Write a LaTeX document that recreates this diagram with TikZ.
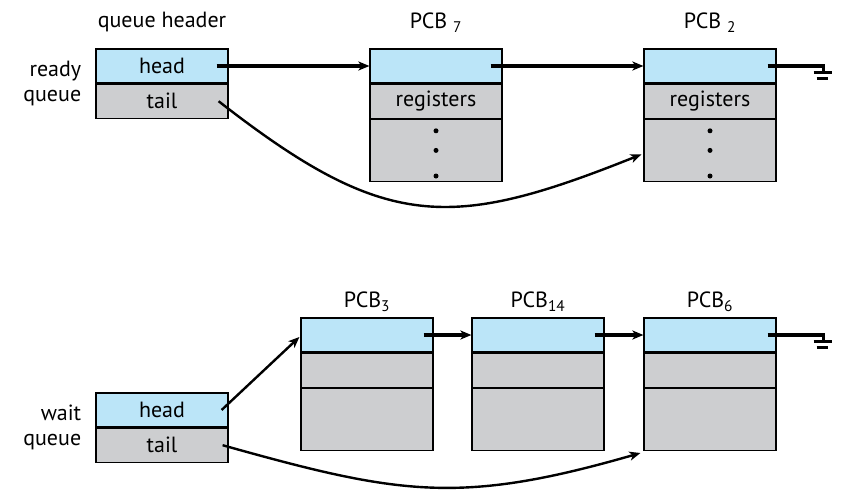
\documentclass[tikz,border=0pt]{standalone}
\usepackage{fontspec}
\setmainfont{PT Sans}
\usetikzlibrary{arrows.meta}
\usetikzlibrary{calc}
\usetikzlibrary{positioning}
\definecolor{hdblue}{RGB}{187,229,248}
\definecolor{cellgray}{RGB}{205,206,208}
\begin{document}
\begin{tikzpicture}[
		x=1pt,y=-1pt,
		>={Stealth[length=11pt,width=9pt,inset=3pt]},
		cell/.style={draw,line width=1.2pt,rectangle,inner sep=0pt,minimum height=34pt},
		hd/.style={cell,fill=hdblue,minimum width=132pt},
		tl/.style={cell,fill=cellgray,minimum width=132pt},
		rest/.style={cell,fill=cellgray,minimum width=132pt,minimum height=62pt},
		lbl/.style={inner sep=2pt,font=\fontsize{22}{25}\selectfont},
		ptr/.style={->,line width=3.6pt},
		link/.style={->,line width=2.4pt},
		dot/.style={circle,fill=black,inner sep=0pt,minimum size=5pt}
	]\fontsize{22}{25}\selectfont
		\useasboundingbox (0,0) rectangle (851,493);

		% ready queue
		\node [hd] (rhead) at (162,66) {head};
		\node [tl,below=0pt of rhead] (rtail) {tail};
		\node [lbl,above=14pt of rhead] (rhdr) {queue header};
		\node [lbl,align=right,left=12pt of rhead.south west] (rq) {ready\\queue};

		\node [hd] (pcb7) at (436,66) {};
		\node [tl,below=0pt of pcb7] (pcb7r) {registers};
		\node [rest,below=0pt of pcb7r] (pcb7b) {};
		\node [lbl,above=14pt of pcb7] (pcb7l) {PCB \textsubscript{7}};

		\node [hd] (pcb2) at (710,66) {};
		\node [tl,below=0pt of pcb2] (pcb2r) {registers};
		\node [rest,below=0pt of pcb2r] (pcb2b) {};
		\node [lbl,above=14pt of pcb2] (pcb2l) {PCB \textsubscript{2}};

		\node [dot] at ($(pcb7b.north)+(0,12)$) {};
		\node [dot] at (pcb7b.center) {};
		\node [dot] at ($(pcb7b.south)+(0,-6)$) {};
		\node [dot] at ($(pcb2b.north)+(0,12)$) {};
		\node [dot] at (pcb2b.center) {};
		\node [dot] at ($(pcb2b.south)+(0,-6)$) {};

		\draw [ptr] ($(rhead.east)+(-12,0)$) -- (pcb7.west);
		\draw [ptr] ($(pcb7.east)+(-12,0)$) -- (pcb2.west);
		\draw [link] ($(rtail.east)+(-10,0)$)
			.. controls (385,231) and (450,231) .. ($(pcb2b.west)+(-2,4)$);

		% ground
		\coordinate (g1) at ($(pcb2.east)+(47,0)$);
		\draw [line width=3.6pt] ($(pcb2.east)+(-9,0)$) -- (g1) -- ++(0,6);
		\draw [line width=3pt] ($(g1)+(-10,6)$) -- ++(18,0);
		\draw [line width=3pt] ($(g1)+(-7,12)$) -- ++(11,0);

		% wait queue
		\node [hd] (whead) at (162,410) {head};
		\node [tl,below=0pt of whead] (wtail) {tail};
		\node [lbl,align=right,left=12pt of whead.south west] (wq) {wait\\queue};

		\node [hd] (pcb3) at (367,335) {};
		\node [tl,below=0pt of pcb3] (pcb3r) {};
		\node [rest,below=0pt of pcb3r] (pcb3b) {};
		\node [lbl,above=4pt of pcb3] (pcb3l) {PCB\textsubscript{3}};

		\node [hd] (pcb14) at (538,335) {};
		\node [tl,below=0pt of pcb14] (pcb14r) {};
		\node [rest,below=0pt of pcb14r] (pcb14b) {};
		\node [lbl,above=4pt of pcb14] (pcb14l) {PCB\textsubscript{14}};

		\node [hd] (pcb6) at (710,335) {};
		\node [tl,below=0pt of pcb6] (pcb6r) {};
		\node [rest,below=0pt of pcb6r] (pcb6b) {};
		\node [lbl,above=4pt of pcb6] (pcb6l) {PCB\textsubscript{6}};

		\draw [ptr] ($(pcb3.east)+(-10,0)$) -- (pcb14.west);
		\draw [ptr] ($(pcb14.east)+(-10,0)$) -- (pcb6.west);
		\draw [link] ($(whead.east)+(-7,0)$) -- ($(pcb3.west)+(-1,2)$);
		\draw [link] ($(wtail.east)+(-6,0)$)
			.. controls (400,495) and (460,505) .. ($(pcb6b.south west)+(-3,2)$);

		\coordinate (g2) at ($(pcb6.east)+(47,0)$);
		\draw [line width=3.6pt] ($(pcb6.east)+(-9,0)$) -- (g2) -- ++(0,6);
		\draw [line width=3pt] ($(g2)+(-10,6)$) -- ++(18,0);
		\draw [line width=3pt] ($(g2)+(-7,12)$) -- ++(11,0);
	\end{tikzpicture}
\end{document}
